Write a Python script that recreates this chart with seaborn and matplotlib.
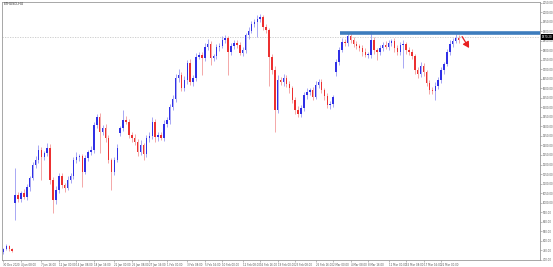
import numpy as np
import pandas as pd
import matplotlib
matplotlib.use("Agg")
import matplotlib.pyplot as plt
import matplotlib.transforms as mtransforms
import seaborn as sns

symbol_title = "ETHUSD,H4"

closes = [
    756, 772, 756, 746, 1040, 1019, 1050, 1029, 1082, 1129,
    1197, 1224, 1276, 1239, 1260, 1287, 1119, 1013, 1066, 1140,
    1092, 1076, 1119, 1140, 1224, 1239, 1245, 1161, 1234, 1266,
    1276, 1407, 1449, 1371, 1392, 1339, 1224, 1161, 1224, 1287,
    1392, 1434, 1423, 1355, 1339, 1318, 1266, 1302, 1255, 1339,
    1350, 1423, 1344, 1355, 1339, 1413, 1434, 1502, 1544, 1654,
    1670, 1602, 1644, 1733, 1633, 1654, 1765, 1775, 1759, 1817,
    1833, 1759, 1770, 1817, 1822, 1854, 1864, 1791, 1822, 1838,
    1828, 1786, 1801, 1880, 1901, 1938, 1948, 1964, 1975, 1922,
    1906, 1765, 1696, 1486, 1644, 1633, 1654, 1623, 1602, 1539,
    1486, 1465, 1497, 1565, 1581, 1591, 1555, 1618, 1633, 1591,
    1560, 1512, 1518, 1555, 1738, 1801, 1843, 1838, 1875, 1854,
    1833, 1822, 1812, 1791, 1775, 1775, 1854, 1801, 1791, 1812,
    1828, 1817, 1838, 1849, 1812, 1791, 1828, 1833, 1801, 1791,
    1770, 1696, 1675, 1717, 1686, 1628, 1591, 1586, 1612, 1644,
    1696, 1728, 1791, 1833, 1849, 1864, 1854,
]

upper_wicks = [
    6, 10, 5, 8, 141, 18, 12, 20, 15, 10,
    14, 22, 26, 18, 12, 25, 20, 16, 22, 18,
    15, 12, 20, 14, 18, 26, 12, 10, 16, 12,
    20, 18, 16, 22, 14, 20, 18, 12, 15, 22,
    10, 52, 20, 18, 14, 22, 16, 25, 12, 18,
    20, 28, 14, 18, 16, 22, 14, 18, 20, 24,
    30, 18, 22, 16, 20, 14, 22, 18, 14, 20,
    26, 16, 12, 18, 14, 20, 16, 12, 18, 14,
    16, 18, 14, 12, 20, 14, 16, 22, 15, 10,
    14, 12, 18, 20, 24, 16, 22, 14, 18, 12,
    16, 20, 14, 18, 22, 12, 16, 20, 14, 18,
    12, 16, 14, 12, 18, 16, 20, 14, 16, 22,
    14, 18, 12, 16, 20, 14, 47, 16, 12, 18,
    14, 20, 16, 12, 18, 14, 16, 20, 12, 14,
    16, 12, 18, 22, 14, 12, 16, 14, 20, 18,
    14, 12, 16, 20, 18, 24, 14,
]

lower_wicks = [
    8, 6, 10, 6, 90, 14, 18, 12, 16, 20,
    12, 14, 18, 120, 16, 14, 22, 68, 18, 14,
    16, 20, 12, 18, 14, 16, 22, 79, 12, 16,
    14, 18, 16, 111, 14, 22, 18, 95, 16, 12,
    14, 18, 12, 16, 20, 14, 22, 18, 31, 16,
    20, 14, 26, 18, 12, 16, 14, 20, 18, 16,
    22, 18, 14, 20, 16, 18, 14, 12, 90, 16,
    18, 37, 14, 16, 20, 12, 18, 121, 14, 16,
    18, 12, 16, 14, 20, 12, 16, 78, 14, 18,
    16, 150, 22, 115, 18, 14, 20, 16, 24, 18,
    22, 16, 14, 18, 20, 14, 16, 12, 18, 14,
    20, 16, 18, 14, 20, 16, 12, 18, 14, 16,
    18, 14, 16, 20, 12, 14, 16, 18, 40, 14,
    16, 12, 18, 14, 20, 16, 14, 120, 18, 14,
    16, 22, 18, 14, 20, 16, 18, 14, 47, 16,
    14, 18, 12, 16, 14, 12, 18,
]

first_open = 740
gap_opens = {4: 998, 40: 1365, 114: 1686}

resistance_level = 1889
resistance_start_bar = 115.5
current_price = 1870.20
arrow_bars = [157.2, 159.6]
arrow_prices = [1872, 1812]

y_ticks = list(range(700, 2051, 50))
x_label_bars = [0, 6, 13, 19, 25, 31, 38, 44, 50, 56, 63, 69, 75, 82, 88,
                94, 100, 107, 113, 119, 125, 132, 138, 144, 150]
x_labels = ["30 Dec 2020", "4 Jan 08:00", "7 Jan 16:00", "12 Jan 00:00",
            "14 Jan 08:00", "18 Jan 16:00", "21 Jan 00:00", "25 Jan 08:00",
            "27 Jan 16:00", "1 Feb 00:00", "3 Feb 08:00", "5 Feb 16:00",
            "10 Feb 00:00", "12 Feb 08:00", "16 Feb 16:00", "19 Feb 00:00",
            "23 Feb 08:00", "25 Feb 16:00", "2 Mar 00:00", "4 Mar 08:00",
            "8 Mar 16:00", "11 Mar 00:00", "15 Mar 08:00", "17 Mar 16:00",
            "22 Mar 00:00"]

# ---- build OHLC table ----
opens = []
for i in range(len(closes)):
    if i == 0:
        opens.append(first_open)
    elif i in gap_opens:
        opens.append(gap_opens[i])
    else:
        opens.append(closes[i - 1])
df = pd.DataFrame({"open": opens, "close": closes})
df["high"] = df[["open", "close"]].max(axis=1) + np.array(upper_wicks)
df["low"] = df[["open", "close"]].min(axis=1) - np.array(lower_wicks)
df["bar"] = np.arange(len(df))
df["bull"] = df["close"] >= df["open"]

sns.set_style("white")
plt.rcParams["font.family"] = ["DejaVu Sans"]

fig = plt.figure(figsize=(5.53, 2.67), dpi=100)
ax = fig.add_axes([2 / 553, 1 - 260 / 267, 538 / 553, 258 / 267])

bull_c, bear_c = "#3030e6", "#ec3030"
bull_w, bear_w = "#9a9af2", "#f29a9a"
wick_colors = np.where(df["bull"], bull_w, bear_w)
body_colors = np.where(df["bull"], bull_c, bear_c)

ax.vlines(df["bar"], df["low"], df["high"], colors=wick_colors, linewidth=0.6, zorder=2)
heights = (df["close"] - df["open"]).to_numpy().astype(float)
heights = np.where(np.abs(heights) < 3, 3, heights)
ax.bar(df["bar"], heights, bottom=df["open"], width=0.5, color=body_colors,
       linewidth=0, zorder=3)

x_max = 183.9
ax.set_xlim(-0.5, x_max)
ax.set_ylim(698.4, 2053.7)

# current price line and resistance band
ax.axhline(current_price, color="#c8c8c8", linestyle=(0, (1.5, 1.5)), linewidth=0.6, zorder=1)
ax.hlines(resistance_level, resistance_start_bar, x_max, color="#3d7cbd",
          linewidth=2.6, zorder=4, capstyle="butt")

ax.annotate("", xy=(arrow_bars[1], arrow_prices[1]), xytext=(arrow_bars[0], arrow_prices[0]),
            arrowprops=dict(arrowstyle="-|>,head_length=0.35,head_width=0.2",
                            color="#e82020", lw=0.9, shrinkA=0, shrinkB=0), zorder=5)

# axes styling
for s in ax.spines.values():
    s.set_color("#999999")
    s.set_linewidth(0.6)
    s.set_linestyle((0, (2, 1)))

ax.yaxis.tick_right()
ax.set_yticks(y_ticks)
ax.set_yticklabels([f"{v:.2f}" for v in y_ticks])
ax.tick_params(axis="y", labelsize=1.9, labelcolor="#555555", length=1.2, width=0.4,
               color="#888888", pad=0.8, right=True, left=False)
ax.set_xticks(x_label_bars)
ax.set_xticklabels(x_labels)
ax.tick_params(axis="x", labelsize=1.9, labelcolor="#555555", length=1.2, width=0.4,
               color="#888888", pad=0.8, bottom=True)
for lbl in ax.get_xticklabels():
    lbl.set_horizontalalignment("left")

# current price marker on the price scale
trans = mtransforms.blended_transform_factory(ax.transAxes, ax.transData)
ax.text(1.003, current_price, f"{current_price:.2f}", transform=trans, fontsize=1.9,
        color="white", va="center", ha="left",
        bbox=dict(boxstyle="square,pad=0.3", facecolor="black", edgecolor="none"),
        zorder=6, clip_on=False)

fig.text(4 / 553, 1 - 4 / 267, symbol_title, fontsize=2.4, color="#333333",
         va="center", ha="left")

fig.savefig("out.png", dpi=100)
